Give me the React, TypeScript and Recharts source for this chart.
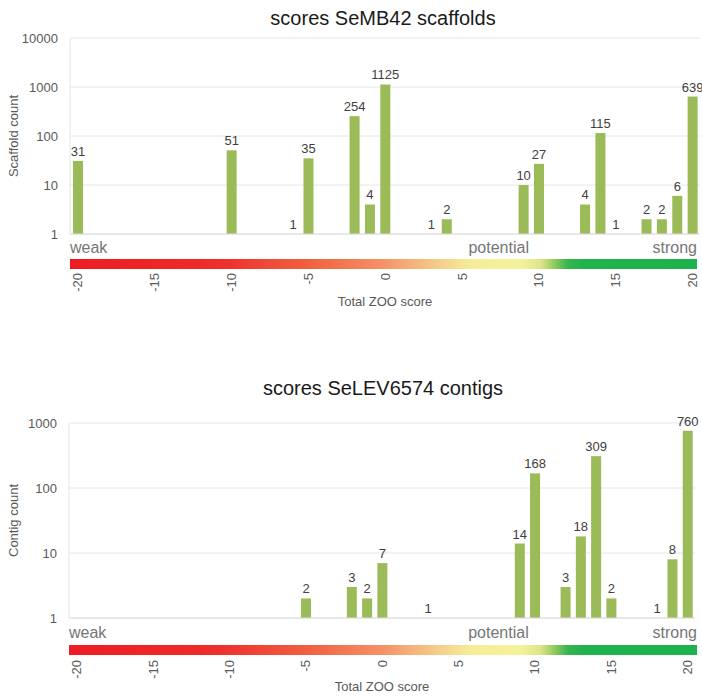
import React from 'react';
import { BarChart, Bar, XAxis, YAxis, CartesianGrid } from 'recharts';

const scores = [-20, -19, -18, -17, -16, -15, -14, -13, -12, -11, -10, -9, -8, -7, -6, -5, -4, -3, -2, -1, 0, 1, 2, 3, 4, 5, 6, 7, 8, 9, 10, 11, 12, 13, 14, 15, 16, 17, 18, 19, 20];

const scaffoldCounts: (number | null)[] = [
  31, null, null, null, null, null, null, null, null, null,
  51, null, null, null, 1, 35, null, null, 254, 4,
  1125, null, null, 1, 2, null, null, null, null, 10,
  27, null, null, 4, 115, 1, null, 2, 2, 6,
  639,
];

const contigCounts: (number | null)[] = [
  null, null, null, null, null, null, null, null, null, null,
  null, null, null, null, null, 2, null, null, 3, 2,
  7, null, null, 1, null, null, null, null, null, 14,
  168, null, 3, 18, 309, 2, null, null, 1, 8,
  760,
];

const scaffoldTicks = [1, 10, 100, 1000, 10000];
const contigTicks = [1, 10, 100, 1000];
const strengthLabels = ['weak', 'potential', 'strong'];
const titles = ['scores SeMB42 scaffolds', 'scores SeLEV6574 contigs'];
const yTitles = ['Scaffold count', 'Contig count'];
const xTitle = 'Total ZOO score';

const FONT = '"Liberation Sans", Arial, Helvetica, sans-serif';
const BAR = '#9BBB59';
const GRID = '#e6e6e6';

const gradientStops: [number, string][] = [
  [0, '#ED1C24'],
  [0.207, '#EE2A27'],
  [0.257, '#EE3430'],
  [0.38, '#F1603F'],
  [0.502, '#F5926A'],
  [0.576, '#F5C687'],
  [0.638, '#F6EC98'],
  [0.718, '#F5F29A'],
  [0.75, '#DDE68A'],
  [0.774, '#8DC85D'],
  [0.794, '#34B54F'],
  [0.82, '#1EB34C'],
  [1, '#1DB34C'],
];

type Off = { weak: number; gTop: number; gH: number; tick: number; title: number };

const XDecor = (props: any) => {
  const { viewBox, gid, off, gradRight } = props;
  const vx = viewBox.x;
  const vy = viewBox.y;
  const vw = viewBox.width;
  const gw = gradRight - vx;
  return (
    <g>
      <defs>
        <linearGradient id={gid} x1="0" y1="0" x2="1" y2="0">
          {gradientStops.map(([o, c], i) => (
            <stop key={i} offset={o} stopColor={c} />
          ))}
        </linearGradient>
      </defs>
      <text x={vx} y={vy + off.weak} fontSize={16} fill="#767676" fontFamily={FONT}>{strengthLabels[0]}</text>
      <text x={vx + 0.732 * gw} y={vy + off.weak} fontSize={16} fill="#767676" fontFamily={FONT} textAnchor="end">{strengthLabels[1]}</text>
      <text x={gradRight} y={vy + off.weak} fontSize={16} fill="#767676" fontFamily={FONT} textAnchor="end">{strengthLabels[2]}</text>
      <rect x={vx} y={vy + off.gTop} width={gw} height={off.gH} fill={`url(#${gid})`} />
      <text x={vx + vw / 2} y={vy + off.title} fontSize={13} fill="#595959" fontFamily={FONT} textAnchor="middle">{xTitle}</text>
    </g>
  );
};

const XTick = (props: any) => {
  const { x, y, payload, dyOff } = props;
  return (
    <text
      transform={`translate(${x},${y + dyOff}) rotate(-90)`}
      textAnchor="end"
      dy="0.36em"
      fontSize={13}
      fill="#595959"
      fontFamily={FONT}
    >
      {payload.value}
    </text>
  );
};

const YTitle = (props: any) => {
  const { viewBox, text } = props;
  const cy = viewBox.y + viewBox.height / 2;
  return (
    <text
      transform={`translate(13.5,${cy}) rotate(-90)`}
      textAnchor="middle"
      dy="0.36em"
      fontSize={13}
      fill="#595959"
      fontFamily={FONT}
    >
      {text}
    </text>
  );
};

// Draws the bar (only when it has visible height) and its value label above it.
const BarShape = (props: any) => {
  const { x, y, width, height, payload, fill } = props;
  const v = payload ? payload.count : null;
  if (v === null || v === undefined || !isFinite(x) || !isFinite(y)) return null;
  const h = isFinite(height) ? height : 0;
  const top = Math.min(y, y + h);
  const bh = Math.abs(h);
  return (
    <g>
      {v > 1 && bh >= 0.5 ? <rect x={x} y={top} width={width} height={bh} fill={fill} /> : null}
      <text x={x + width / 2} y={top - 5} textAnchor="middle" fontSize={13} fill="#404040" fontFamily={FONT}>
        {v}
      </text>
    </g>
  );
};

type PanelProps = {
  gid: string;
  counts: (number | null)[];
  ticks: number[];
  yTitle: string;
  height: number;
  marginTop: number;
  plotHeight: number;
  yAxisWidth: number;
  marginRight: number;
  off: Off;
};

function Panel(p: PanelProps) {
  const data = scores.map((s, i) => ({ score: s, count: p.counts[i] }));
  const xAxisHeight = p.height - p.marginTop - p.plotHeight;
  const top = p.ticks[p.ticks.length - 1];
  return (
    <BarChart
      width={702}
      height={p.height}
      data={data}
      margin={{ top: p.marginTop, right: p.marginRight, bottom: 0, left: 0 }}
      barSize={10}
      style={{ fontFamily: FONT }}
    >
      <CartesianGrid vertical={false} stroke={GRID} />
      <XAxis
        dataKey="score"
        type="category"
        interval={4}
        tickLine={false}
        tickSize={0}
        tickMargin={0}
        axisLine={{ stroke: '#dcdcdc' }}
        height={xAxisHeight}
        tick={(tp: any) => <XTick {...tp} dyOff={p.off.tick} />}
        label={(lp: any) => <XDecor {...lp} gid={p.gid} off={p.off} gradRight={697} />}
      />
      <YAxis
        type="number"
        scale="log"
        domain={[1, top]}
        ticks={p.ticks}
        width={p.yAxisWidth}
        tickLine={false}
        tickSize={6}
        tickMargin={6}
        axisLine={{ stroke: GRID }}
        tick={{ fill: '#595959', fontSize: 13, fontFamily: FONT }}
        label={(lp: any) => <YTitle {...lp} text={p.yTitle} />}
      />
      <Bar
        dataKey="count"
        fill={BAR}
        minPointSize={0.01}
        isAnimationActive={false}
        shape={(sp: any) => <BarShape {...sp} />}
      />
    </BarChart>
  );
}

export default function App() {
  return (
    <div style={{ position: 'absolute', left: 0, top: 0, width: 702, height: 696, background: '#fff' }}>
      <div style={{ position: 'absolute', left: 0, top: 0 }}>
        <Panel
          gid="gradTop"
          counts={scaffoldCounts}
          ticks={scaffoldTicks}
          yTitle={yTitles[0]}
          height={340}
          marginTop={38}
          plotHeight={196}
          yAxisWidth={70}
          marginRight={2}
          off={{ weak: 19, gTop: 25, gH: 10, tick: 39, title: 72 }}
        />
      </div>
      <div style={{ position: 'absolute', left: 0, top: 340 }}>
        <Panel
          gid="gradBottom"
          counts={contigCounts}
          ticks={contigTicks}
          yTitle={yTitles[1]}
          height={356}
          marginTop={83}
          plotHeight={195}
          yAxisWidth={69}
          marginRight={7}
          off={{ weak: 20, gTop: 27, gH: 10, tick: 42, title: 73 }}
        />
      </div>
      <svg width={702} height={696} style={{ position: 'absolute', left: 0, top: 0, pointerEvents: 'none' }}>
        <text x={383} y={25} textAnchor="middle" fontSize={20} fill="#1a1a1a" fontFamily={FONT}>{titles[0]}</text>
        <text x={383} y={395} textAnchor="middle" fontSize={20} fill="#1a1a1a" fontFamily={FONT}>{titles[1]}</text>
      </svg>
    </div>
  );
}
